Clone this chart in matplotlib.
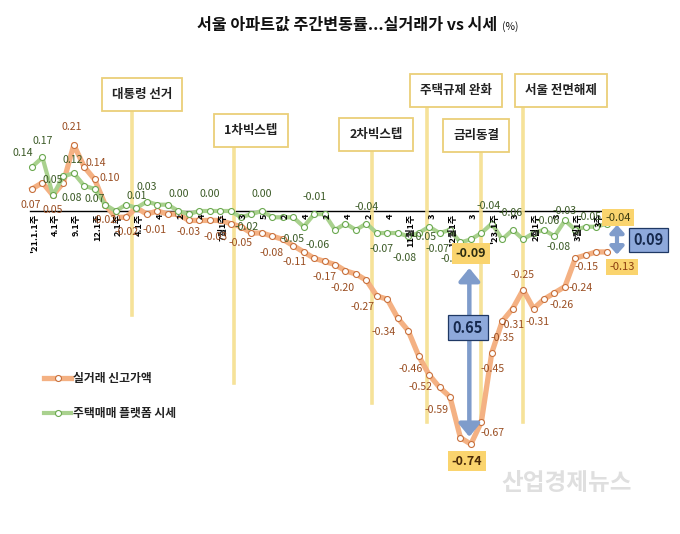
import matplotlib
matplotlib.use('Agg')
import matplotlib.pyplot as plt

plt.rcParams['font.family'] = ['Noto Sans CJK KR', 'DejaVu Sans']

# x tick labels (every second week)
tick_labels = ["'21.1.1주", '4.1주', '9.1주', '12.1주', '2.1주', '4.1주', '4', '2', '4',
               '7월1주', '3', '5', '2', '4', '2', '4', '2', '4', '11월1주', '3', '12월1주',
               '3', "'23.1주", '3', '2월1주', '3', '3월1주', '3주']

# 실거래 신고가액 (%)
real_deal = [0.07, 0.09, 0.05, 0.09, 0.21, 0.14, 0.10, 0.02, -0.02, -0.02,
             0.01, -0.01, 0.00, -0.01, -0.01, -0.03, -0.03, -0.03, -0.03, -0.04,
             -0.05, -0.07, -0.07, -0.08, -0.09, -0.11, -0.13, -0.15, -0.16, -0.17,
             -0.19, -0.20, -0.22, -0.27, -0.28, -0.34, -0.38, -0.46, -0.52, -0.56,
             -0.59, -0.72, -0.74, -0.67, -0.45, -0.35, -0.31, -0.25, -0.31, -0.28,
             -0.26, -0.24, -0.15, -0.14, -0.13, -0.13]

# 주택매매 플랫폼 시세 (%)
platform = [0.14, 0.17, 0.05, 0.11, 0.12, 0.08, 0.07, 0.02, 0.00, 0.02,
            0.01, 0.03, 0.02, 0.02, 0.00, -0.01, 0.00, 0.00, 0.00, 0.00,
            -0.02, -0.01, 0.00, -0.02, -0.02, -0.02, -0.05, -0.01, -0.01, -0.06,
            -0.04, -0.06, -0.04, -0.07, -0.07, -0.07, -0.08, -0.07, -0.05, -0.07,
            -0.06, -0.10, -0.09, -0.07, -0.04, -0.09, -0.06, -0.09, -0.07, -0.06,
            -0.08, -0.03, -0.06, -0.05, -0.05, -0.04]

events = ['대통령 선거', '1차빅스텝', '2차빅스텝', '주택규제 완화', '금리동결', '서울 전면해제']
event_x = [9.57, 19.33, 32.54, 37.80, 42.97, 46.99]

# layout: (box x, box y, line top, line bottom)
event_layout = [(10.53, 0.371, 0.321, -0.330),
                (20.96, 0.254, 0.203, -0.546),
                (32.92, 0.244, 0.194, -0.610),
                (40.57, 0.384, 0.337, -0.670),
                (42.49, 0.241, 0.190, -0.670),
                (50.62, 0.381, 0.330, -0.670)]

# data label offsets in pixels (dx, dy)
real_lbl = {0: (-1, -16), 2: (0, -15), 4: (-2, 18), 5: (12, 4), 6: (15, 1),
            8: (-11, -3), 9: (1, -15), 11: (8, -16), 15: (0, -12), 18: (-5, -17),
            20: (0, -16), 23: (-1, -17), 25: (1, -16), 29: (-11, -12), 31: (-13, -14),
            33: (-14, -11), 35: (-14, -14), 37: (-8, -13), 38: (-9, -12), 40: (-13, -13),
            43: (11, -11), 44: (1, -16), 45: (0, -17), 46: (0, -16), 47: (-1, 15),
            48: (4, -13), 50: (7, -12), 51: (16, -1), 52: (11, -9)}
plat_lbl = {0: (-9, 14), 1: (0, 16), 2: (0, 15), 4: (-1, 13), 5: (-12, -12),
            6: (0, -10), 10: (0, 12), 11: (0, 15), 14: (0, 17), 17: (0, 17),
            20: (6, -10), 22: (0, 17), 26: (-11, -12), 27: (0, 17), 29: (-17, -15),
            32: (0, 17), 33: (5, -16), 36: (-4, -22), 38: (-5, -10), 39: (-2, -16),
            41: (-8, -17), 44: (-3, 18), 46: (-2, 17), 49: (4, 9), 50: (4, -11),
            51: (0, 9), 53: (4, 10)}

c_real, c_real_edge, c_real_txt = '#F4B183', '#C8703C', '#9A4E22'
c_plat, c_plat_edge, c_plat_txt = '#A9D18E', '#6AA84F', '#3B5A26'
c_event = '#F5DF8E'
c_hl = '#FAD46E'
c_blue = '#8EA9DB'

fig = plt.figure(figsize=(6.8, 5.34), dpi=100)
ax = fig.add_axes([0, 0, 1, 1])
ax.set_xlim(-3.062, 62.01)
ax.set_ylim(-1.0254, 0.6698)
ax.axis('off')

x = list(range(len(real_deal)))

ax.plot([-0.2, 55.0], [0, 0], color='black', lw=1.0, zorder=1)

l1, = ax.plot(x, real_deal, color=c_real, lw=3.8, marker='o', ms=4.3,
              mfc='white', mec=c_real_edge, mew=0.8, zorder=4, label='실거래 신고가액')
l2, = ax.plot(x, platform, color=c_plat, lw=3.0, marker='o', ms=4.3,
              mfc='white', mec=c_plat_edge, mew=0.8, zorder=5, label='주택매매 플랫폼 시세')

# tick labels sitting under the zero line
for k, lab in enumerate(tick_labels):
    ax.text(2 * k + 0.25, -0.008, lab, rotation=90, ha='center', va='top',
            fontsize=6.6, fontweight='bold', color='black', zorder=6)

# event markers
for name, ex, (bx, by, top, bot) in zip(events, event_x, event_layout):
    ax.plot([ex, ex], [bot, top], color=c_event, lw=2.6, alpha=0.9, zorder=3)
    ax.text(bx, by, name, ha='center', va='center', fontsize=9, fontweight='bold',
            color='#222222', zorder=7,
            bbox=dict(boxstyle='square,pad=0.8', fc='white', ec='#EBCF78', lw=1.3))

# data labels
for i, (dx, dy) in real_lbl.items():
    ax.annotate('%.2f' % real_deal[i], (i, real_deal[i]), xytext=(dx, dy),
                textcoords='offset pixels', ha='center', va='center',
                fontsize=7.6, color=c_real_txt, zorder=6)
for i, (dx, dy) in plat_lbl.items():
    ax.annotate('%.2f' % platform[i], (i, platform[i]), xytext=(dx, dy),
                textcoords='offset pixels', ha='center', va='center',
                fontsize=7.6, color=c_plat_txt, zorder=6)

# highlighted values
i_min = real_deal.index(min(real_deal))
i_last = len(real_deal) - 1
hl = [(platform, i_min, (0, -14), 9, 'bold', '#2b2b10'),
      (real_deal, i_min, (-4, -17), 9, 'bold', '#4a2a08'),
      (platform, i_last, (11, 6), 8, 'normal', '#3b3b10'),
      (real_deal, i_last, (15, -15), 8, 'normal', '#8a3c10')]
for ser, i, off, fs, fw, tc in hl:
    ax.annotate('%.2f' % ser[i], (i, ser[i]), xytext=off, textcoords='offset pixels',
                ha='center', va='center', fontsize=fs, fontweight=fw, color=tc, zorder=9,
                bbox=dict(boxstyle='square,pad=0.3', fc=c_hl, ec='none'))

# gap arrows
arrow_big = dict(arrowstyle='<|-|>,head_length=0.55,head_width=0.45', color='#7F9CCB',
                 lw=3.2, mutation_scale=14, shrinkA=0, shrinkB=0)
arrow_small = dict(arrowstyle='<|-|>,head_length=0.5,head_width=0.45', color='#7F9CCB',
                   lw=3.0, mutation_scale=9, shrinkA=0, shrinkB=0)
ax.annotate('', xy=(41.85, -0.717), xytext=(41.85, -0.181), arrowprops=arrow_big, zorder=8)
ax.annotate('', xy=(55.98, -0.138), xytext=(55.98, -0.044), arrowprops=arrow_small, zorder=8)

gap1 = platform[i_min] - real_deal[i_min]
gap2 = platform[i_last] - real_deal[i_last]
ax.text(41.72, -0.371, '%.2f' % gap1, ha='center', va='center', fontsize=10.5,
        fontweight='bold', color='#16294d', zorder=9,
        bbox=dict(boxstyle='square,pad=0.3', fc=c_blue, ec='#1F3864', lw=0.9))
ax.text(59.04, -0.092, '%.2f' % gap2, ha='center', va='center', fontsize=10.5,
        fontweight='bold', color='#16294d', zorder=9,
        bbox=dict(boxstyle='square,pad=0.3', fc=c_blue, ec='#1F3864', lw=0.9))

# title, with the unit right after it
title = fig.text(197 / 680, 1 - 25 / 534, '서울 아파트값 주간변동률...실거래가 vs 시세',
                 ha='left', va='center', fontsize=11.6, fontweight='bold', color='#111111')
fig.canvas.draw()
bb = title.get_window_extent(fig.canvas.get_renderer())
fig.text((bb.x1 + 5) / 680, 1 - 27 / 534, '(%)', ha='left', va='center', fontsize=7.5,
         color='#111111')

# legend
leg = fig.legend(handles=[l1, l2], loc='upper left', bbox_to_anchor=(44 / 680, 1 - 372 / 534),
                 frameon=False, fontsize=8.5, handlelength=2.3, handletextpad=0.15,
                 labelspacing=1.9, borderpad=0, borderaxespad=0)
for t in leg.get_texts():
    t.set_fontweight('bold')
    t.set_color('#222222')

# watermark
fig.text(567 / 680, 1 - 483 / 534, '산업경제뉴스', ha='center', va='center',
         fontsize=17, fontweight='bold', color='#dcdcdc', alpha=0.9)

fig.savefig('out.png', dpi=100)
